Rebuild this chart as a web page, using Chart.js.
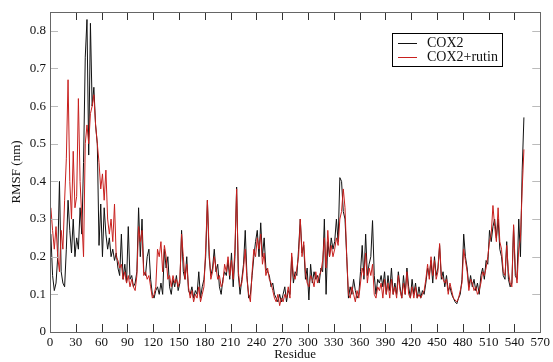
<!DOCTYPE html>
<html><head><meta charset="utf-8">
<script src="https://cdn.jsdelivr.net/npm/chart.js@4"></script>
<style>html,body{margin:0;padding:0;background:#fff}canvas{display:block}</style>
</head><body>
<canvas id="c" width="553" height="362"></canvas>
<script>
// residue numbers sampled every 2 residues (1..551)
const residues = Array.from({length: 276}, (_, i) => 1 + 2 * i);

const cox2 = [
0.26,0.15,0.11,0.13,0.20,0.40,0.16,0.13,0.12,0.22,
0.35,0.27,0.21,0.30,0.20,0.25,0.22,0.33,0.26,0.45,
0.73,0.83,0.47,0.82,0.60,0.65,0.55,0.50,0.23,0.34,
0.20,0.33,0.26,0.22,0.25,0.20,0.22,0.19,0.21,0.17,
0.15,0.26,0.14,0.18,0.13,0.28,0.14,0.15,0.12,0.13,
0.16,0.33,0.20,0.30,0.16,0.15,0.20,0.22,0.14,0.10,
0.09,0.11,0.12,0.10,0.13,0.10,0.22,0.17,0.20,0.12,
0.10,0.14,0.12,0.15,0.11,0.13,0.27,0.16,0.14,0.20,
0.11,0.10,0.12,0.09,0.11,0.10,0.16,0.09,0.12,0.14,
0.20,0.35,0.20,0.15,0.17,0.22,0.16,0.18,0.12,0.10,
0.14,0.16,0.15,0.19,0.14,0.21,0.12,0.20,0.385,0.15,
0.10,0.14,0.18,0.27,0.15,0.09,0.10,0.15,0.20,0.24,
0.27,0.20,0.29,0.20,0.25,0.17,0.16,0.15,0.12,0.13,
0.10,0.09,0.08,0.10,0.08,0.10,0.12,0.08,0.11,0.10,
0.20,0.13,0.16,0.15,0.22,0.30,0.21,0.23,0.14,0.17,
0.085,0.18,0.13,0.16,0.14,0.15,0.13,0.17,0.16,0.30,
0.10,0.24,0.20,0.25,0.22,0.24,0.30,0.24,0.41,0.40,
0.32,0.30,0.20,0.09,0.12,0.10,0.14,0.11,0.09,0.10,
0.16,0.23,0.14,0.26,0.15,0.18,0.20,0.296,0.15,0.10,
0.14,0.13,0.15,0.12,0.16,0.10,0.15,0.11,0.17,0.10,
0.13,0.10,0.16,0.12,0.09,0.15,0.10,0.17,0.12,0.09,
0.14,0.10,0.13,0.09,0.12,0.09,0.11,0.10,0.13,0.17,
0.15,0.19,0.13,0.20,0.15,0.17,0.23,0.14,0.16,0.12,
0.15,0.11,0.12,0.10,0.09,0.08,0.075,0.09,0.10,0.14,
0.26,0.20,0.17,0.12,0.15,0.12,0.14,0.11,0.13,0.10,
0.15,0.17,0.14,0.19,0.18,0.27,0.24,0.28,0.30,0.25,
0.30,0.22,0.20,0.15,0.14,0.24,0.14,0.12,0.13,0.28,
0.15,0.14,0.30,0.20,0.43,0.57
];

const cox2Rutin = [
0.33,0.27,0.22,0.28,0.20,0.16,0.27,0.22,0.35,0.46,
0.67,0.40,0.30,0.48,0.33,0.36,0.62,0.40,0.30,0.20,
0.50,0.55,0.50,0.58,0.60,0.63,0.55,0.50,0.45,0.38,
0.42,0.35,0.43,0.30,0.26,0.30,0.24,0.34,0.20,0.19,
0.17,0.18,0.14,0.16,0.13,0.15,0.12,0.14,0.12,0.11,
0.15,0.28,0.24,0.27,0.15,0.16,0.14,0.15,0.12,0.09,
0.10,0.12,0.22,0.20,0.24,0.16,0.23,0.20,0.14,0.15,
0.12,0.15,0.13,0.14,0.12,0.14,0.26,0.20,0.14,0.18,
0.12,0.09,0.11,0.08,0.10,0.09,0.12,0.08,0.10,0.12,
0.22,0.35,0.22,0.14,0.16,0.20,0.17,0.14,0.15,0.12,
0.13,0.18,0.16,0.20,0.15,0.19,0.14,0.22,0.38,0.16,
0.12,0.13,0.17,0.22,0.14,0.10,0.08,0.16,0.22,0.20,
0.25,0.22,0.26,0.18,0.21,0.15,0.17,0.14,0.13,0.11,
0.09,0.08,0.10,0.07,0.09,0.08,0.10,0.09,0.12,0.09,
0.21,0.15,0.14,0.17,0.20,0.30,0.20,0.24,0.16,0.13,
0.12,0.15,0.14,0.12,0.16,0.13,0.15,0.16,0.19,0.25,
0.17,0.27,0.20,0.23,0.20,0.22,0.25,0.23,0.30,0.32,
0.38,0.33,0.20,0.10,0.09,0.12,0.10,0.08,0.11,0.09,
0.13,0.17,0.15,0.21,0.13,0.17,0.15,0.18,0.10,0.09,
0.12,0.11,0.13,0.09,0.14,0.10,0.13,0.09,0.14,0.10,
0.12,0.09,0.15,0.11,0.09,0.13,0.10,0.16,0.10,0.09,
0.12,0.09,0.12,0.09,0.10,0.09,0.10,0.11,0.14,0.18,
0.14,0.20,0.15,0.19,0.14,0.16,0.235,0.15,0.14,0.13,
0.14,0.10,0.13,0.11,0.09,0.085,0.08,0.09,0.11,0.13,
0.22,0.19,0.16,0.11,0.14,0.13,0.11,0.12,0.10,0.11,
0.13,0.16,0.15,0.17,0.20,0.24,0.26,0.336,0.28,0.24,
0.33,0.24,0.22,0.16,0.15,0.23,0.16,0.13,0.12,0.285,
0.17,0.13,0.22,0.25,0.38,0.485
];

const seriesNames = ['COX2', 'COX2+rutin'];
const seriesColors = ['#111111', '#c8201e'];
const xTicks = [0,30,60,90,120,150,180,210,240,270,300,330,360,390,420,450,480,510,540,570];
const yTicks = [0,0.1,0.2,0.3,0.4,0.5,0.6,0.7,0.8];

const SERIF = '"Liberation Serif", "Times New Roman", serif';
Chart.defaults.font.family = SERIF;
Chart.defaults.font.size = 13;
Chart.defaults.color = '#111';

const framePlugin = {
  id: 'frame',
  afterDatasetsDraw(chart) {
    const {ctx, chartArea: a, scales: {x, y}} = chart;
    ctx.save();
    ctx.lineWidth = 1;
    // inward x ticks (top & bottom)
    ctx.strokeStyle = '#333';
    ctx.beginPath();
    xTicks.forEach(v => {
      const px = Math.round(x.getPixelForValue(v)) + 0.5;
      ctx.moveTo(px, a.bottom); ctx.lineTo(px, a.bottom - 8);
      ctx.moveTo(px, a.top); ctx.lineTo(px, a.top + 8);
    });
    ctx.stroke();
    // inward y ticks (left & right)
    ctx.strokeStyle = '#bbb';
    ctx.beginPath();
    yTicks.forEach(v => {
      const py = Math.round(y.getPixelForValue(v)) + 0.5;
      ctx.moveTo(a.left, py); ctx.lineTo(a.left + 8, py);
      ctx.moveTo(a.right, py); ctx.lineTo(a.right - 8, py);
    });
    ctx.stroke();
    // frame
    ctx.strokeStyle = '#666';
    ctx.strokeRect(Math.round(a.left) + 0.5, Math.round(a.top) + 0.5,
                   Math.round(a.right - a.left), Math.round(a.bottom - a.top));
    ctx.restore();
  },
  afterDraw(chart) {
    const {ctx, chartArea: a} = chart;
    const bx = Math.round(a.right) - 148, by = Math.round(a.top) + 21;
    ctx.save();
    ctx.fillStyle = '#fff';
    ctx.fillRect(bx, by, 110, 33);
    ctx.strokeStyle = '#000';
    ctx.lineWidth = 1;
    ctx.strokeRect(bx + 0.5, by + 0.5, 110, 33);
    ctx.font = '14px ' + SERIF;
    ctx.textBaseline = 'middle';
    ctx.textAlign = 'left';
    seriesNames.forEach((name, i) => {
      const ly = by + 10 + i * 14 + 0.5;
      ctx.strokeStyle = seriesColors[i];
      ctx.beginPath();
      ctx.moveTo(bx + 6, ly); ctx.lineTo(bx + 25, ly);
      ctx.stroke();
      ctx.fillStyle = '#111';
      ctx.fillText(name, bx + 35, ly);
    });
    ctx.restore();
  }
};

new Chart(document.getElementById('c'), {
  type: 'line',
  data: {
    datasets: [
      {
        label: seriesNames[0],
        data: residues.map((r, i) => ({x: r, y: cox2[i]})),
        borderColor: seriesColors[0],
        borderWidth: 1,
        pointRadius: 0,
        tension: 0,
        order: 2
      },
      {
        label: seriesNames[1],
        data: residues.map((r, i) => ({x: r, y: cox2Rutin[i]})),
        borderColor: seriesColors[1],
        borderWidth: 1,
        pointRadius: 0,
        tension: 0,
        order: 1
      }
    ]
  },
  options: {
    responsive: false,
    animation: false,
    devicePixelRatio: 1,
    layout: {padding: {top: 12, right: 10, left: 0, bottom: 0}},
    plugins: {legend: {display: false}, tooltip: {enabled: false}},
    scales: {
      x: {
        type: 'linear',
        min: 0, max: 570,
        afterBuildTicks: s => { s.ticks = xTicks.map(v => ({value: v})); },
        grid: {display: false, drawTicks: false},
        border: {display: false},
        ticks: {autoSkip: false, maxRotation: 0, padding: 3, color: '#111'},
        title: {display: true, text: 'Residue', color: '#111', padding: {top: 0, bottom: 0}},
        afterFit: s => { s.height = 30; }
      },
      y: {
        type: 'linear',
        min: 0, max: 0.85,
        afterBuildTicks: s => { s.ticks = yTicks.map(v => ({value: v})); },
        grid: {display: false, drawTicks: false},
        border: {display: false},
        ticks: {padding: 4, color: '#111', callback: v => v === 0 ? '0' : v.toFixed(1)},
        title: {display: true, text: 'RMSF (nm)', color: '#111', padding: {top: 9, bottom: 0}},
        afterFit: s => { s.width = 50; }
      }
    }
  },
  plugins: [framePlugin]
});
</script>
</body></html>
